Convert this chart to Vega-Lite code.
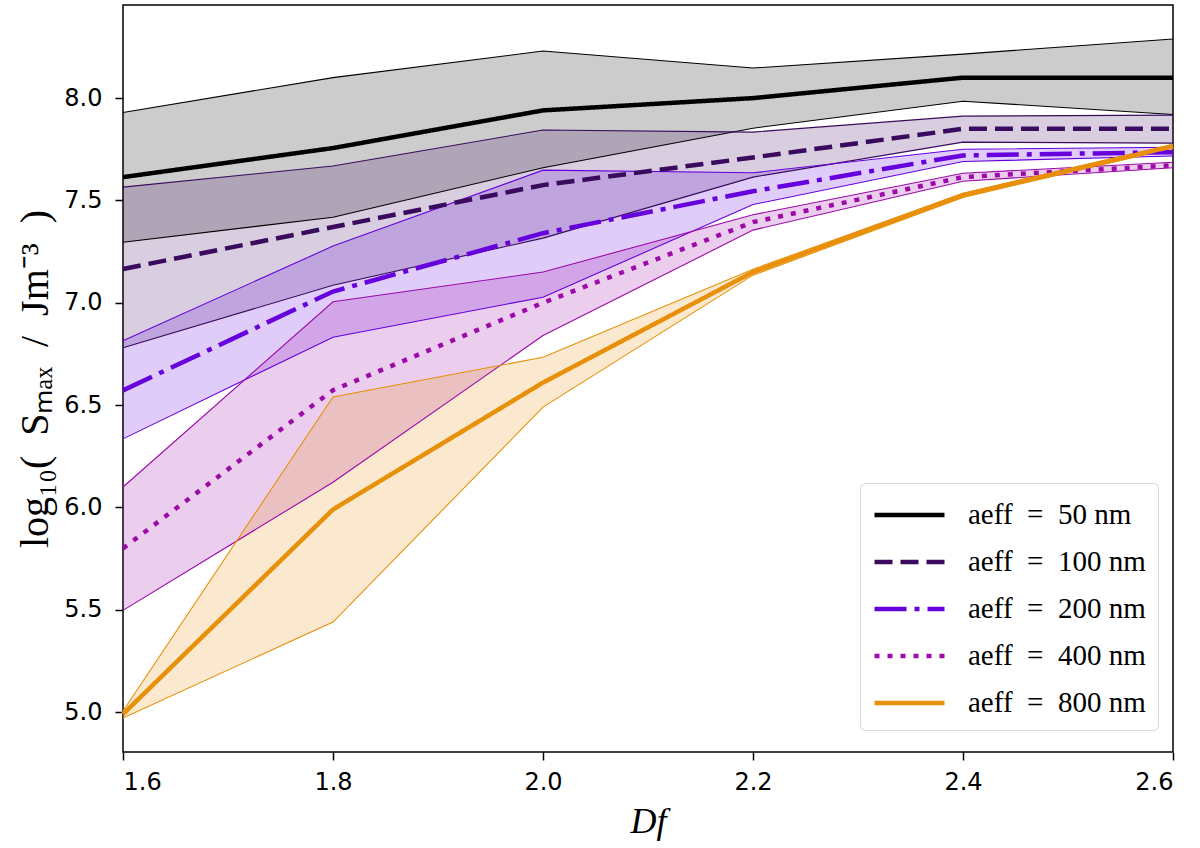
{
  "$schema": "https://vega.github.io/schema/vega-lite/v6.json",
  "width": 1050,
  "height": 747,
  "autosize": "none",
  "padding": {"left": 123, "top": 5, "right": 27, "bottom": 96},
  "background": "white",
  "data": {"values": [
    {"label": "aeff = 50 nm", "D": 1.6, "lo": 7.296, "mid": 7.614, "hi": 7.93},
    {"label": "aeff = 50 nm", "D": 1.8, "lo": 7.418, "mid": 7.756, "hi": 8.10},
    {"label": "aeff = 50 nm", "D": 2.0, "lo": 7.66, "mid": 7.94, "hi": 8.23},
    {"label": "aeff = 50 nm", "D": 2.2, "lo": 7.853, "mid": 8.0, "hi": 8.147},
    {"label": "aeff = 50 nm", "D": 2.4, "lo": 7.985, "mid": 8.10, "hi": 8.215},
    {"label": "aeff = 50 nm", "D": 2.6, "lo": 7.92, "mid": 8.10, "hi": 8.289},
    {"label": "aeff = 100 nm", "D": 1.6, "lo": 6.78, "mid": 7.165, "hi": 7.565},
    {"label": "aeff = 100 nm", "D": 1.8, "lo": 7.086, "mid": 7.37, "hi": 7.668},
    {"label": "aeff = 100 nm", "D": 2.0, "lo": 7.316, "mid": 7.575, "hi": 7.844},
    {"label": "aeff = 100 nm", "D": 2.2, "lo": 7.614, "mid": 7.71, "hi": 7.834},
    {"label": "aeff = 100 nm", "D": 2.4, "lo": 7.785, "mid": 7.85, "hi": 7.912},
    {"label": "aeff = 100 nm", "D": 2.6, "lo": 7.78, "mid": 7.85, "hi": 7.917},
    {"label": "aeff = 200 nm", "D": 1.6, "lo": 6.335, "mid": 6.572, "hi": 6.815},
    {"label": "aeff = 200 nm", "D": 1.8, "lo": 6.832, "mid": 7.055, "hi": 7.277},
    {"label": "aeff = 200 nm", "D": 2.0, "lo": 7.027, "mid": 7.34, "hi": 7.648},
    {"label": "aeff = 200 nm", "D": 2.2, "lo": 7.48, "mid": 7.545, "hi": 7.635},
    {"label": "aeff = 200 nm", "D": 2.4, "lo": 7.69, "mid": 7.72, "hi": 7.75},
    {"label": "aeff = 200 nm", "D": 2.6, "lo": 7.717, "mid": 7.736, "hi": 7.76},
    {"label": "aeff = 400 nm", "D": 1.6, "lo": 5.497, "mid": 5.80, "hi": 6.10},
    {"label": "aeff = 400 nm", "D": 1.8, "lo": 6.123, "mid": 6.573, "hi": 7.005},
    {"label": "aeff = 400 nm", "D": 2.0, "lo": 6.84, "mid": 7.0, "hi": 7.15},
    {"label": "aeff = 400 nm", "D": 2.2, "lo": 7.355, "mid": 7.394, "hi": 7.43},
    {"label": "aeff = 400 nm", "D": 2.4, "lo": 7.594, "mid": 7.614, "hi": 7.633},
    {"label": "aeff = 400 nm", "D": 2.6, "lo": 7.66, "mid": 7.672, "hi": 7.687},
    {"label": "aeff = 800 nm", "D": 1.6, "lo": 4.971, "mid": 4.99, "hi": 5.005},
    {"label": "aeff = 800 nm", "D": 1.8, "lo": 5.44, "mid": 5.99, "hi": 6.54},
    {"label": "aeff = 800 nm", "D": 2.0, "lo": 6.49, "mid": 6.61, "hi": 6.734},
    {"label": "aeff = 800 nm", "D": 2.2, "lo": 7.135, "mid": 7.15, "hi": 7.164},
    {"label": "aeff = 800 nm", "D": 2.4, "lo": 7.515, "mid": 7.526, "hi": 7.535},
    {"label": "aeff = 800 nm", "D": 2.6, "lo": 7.755, "mid": 7.765, "hi": 7.775}
  ]},
  "encoding": {
    "x": {
      "field": "D", "type": "quantitative",
      "scale": {"domain": [1.6, 2.6], "nice": false, "zero": false},
      "axis": {
        "title": "Df", "values": [1.6, 1.8, 2.0, 2.2, 2.4, 2.6], "format": ".1f",
        "grid": false, "domain": false, "tickColor": "black", "tickWidth": 1.5, "tickSize": 8,
        "labelFont": "DejaVu Sans", "labelFontSize": 24, "labelColor": "black", "labelPadding": 10,
        "titleFont": "Liberation Serif", "titleFontSize": 36, "titleFontStyle": "italic", "titleFontWeight": "normal",
        "titleColor": "black", "titlePadding": 10
      }
    },
    "color": {"field": "label", "type": "nominal",
      "scale": {"domain": ["aeff = 50 nm", "aeff = 100 nm", "aeff = 200 nm", "aeff = 400 nm", "aeff = 800 nm"],
                "range": ["#000000", "#3a0a5e", "#6600dd", "#9c0aa8", "#e8900a"]},
      "legend": {"title": null, "orient": "none", "legendX": 737, "legendY": 478, "symbolType": "M -1 0 H 3", "symbolOpacity": 1, "symbolFillColor": "transparent",
        "labelExpr": "replace(datum.label, ' = ', '\u2002=\u2002')"}}
  },
  "layer": [
    {
      "mark": {"type": "area", "opacity": 0.2},
      "encoding": {
        "y": {"field": "lo", "type": "quantitative",
          "scale": {"domain": [4.805, 8.455], "nice": false, "zero": false},
          "axis": {
            "title": "log₁₀(\u2002Sₘₐₓ\u2002/\u2002Jm⁻³\u2002)", "values": [5.0, 5.5, 6.0, 6.5, 7.0, 7.5, 8.0], "format": ".1f",
            "grid": false, "domain": false, "tickColor": "black", "tickWidth": 1.5, "tickSize": 8,
            "labelFont": "DejaVu Sans", "labelFontSize": 24, "labelColor": "black", "labelPadding": 13,
            "titleFont": "Liberation Serif", "titleFontSize": 40, "titleFontWeight": "normal",
            "titleColor": "black", "titlePadding": 8
          }
        },
        "y2": {"field": "hi"}
      }
    },
    {
      "mark": {"type": "line", "strokeWidth": 1.1},
      "encoding": {
        "y": {"field": "lo", "type": "quantitative"}
      }
    },
    {
      "mark": {"type": "line", "strokeWidth": 1.1},
      "encoding": {
        "y": {"field": "hi", "type": "quantitative"}
      }
    },
    {
      "mark": {"type": "line", "strokeWidth": 4.5},
      "encoding": {
        "y": {"field": "mid", "type": "quantitative"},
        "strokeDash": {"field": "label", "type": "nominal",
          "scale": {"domain": ["aeff = 50 nm", "aeff = 100 nm", "aeff = 200 nm", "aeff = 400 nm", "aeff = 800 nm"],
                    "range": [[1, 0], [18, 8], [32, 8, 5, 8], [5, 8], [1, 0]]},
          "legend": {"title": null, "orient": "none", "legendX": 737, "legendY": 478}}
      }
    }
  ],
  "config": {
    "view": {"stroke": "black", "strokeWidth": 1.5},
    "legend": {
      "fillColor": "rgba(255,255,255,0.85)", "strokeColor": "#d6d6d6", "cornerRadius": 5,
      "padding": 12, "labelFont": "Liberation Serif", "labelFontSize": 29, "labelColor": "black",
      "symbolStrokeWidth": 4.5, "symbolSize": 1225, "labelOffset": 56,
      "rowPadding": 12, "labelLimit": 400
    }
  }
}
